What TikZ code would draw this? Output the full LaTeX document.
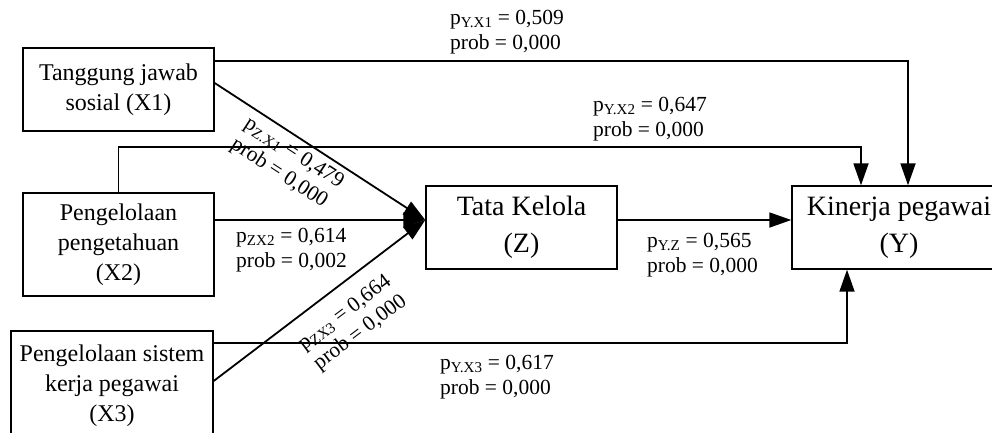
\documentclass[tikz,border=0pt]{standalone}
\usepackage{fontspec}
\setmainfont{Liberation Serif}
\usetikzlibrary{arrows.meta}

\begin{document}
\begin{tikzpicture}[x=1pt, y=-1pt,
	var/.style={draw, line width=1.4pt, align=center, inner sep=0pt, font=\fontsize{24}{30}\selectfont},
	hub/.style={var, font=\fontsize{28}{37}\selectfont},
	conn/.style={line width=1.8pt, -{Triangle[length=22pt, width=15pt]}},
	coef/.style={align=left, inner sep=0pt, font=\fontsize{21.5}{25}\selectfont}]
	\useasboundingbox (0,0) rectangle (992,432);
	
	% variables
	\node[var, minimum width=191pt, minimum height=83pt] (x1) at (118.5, 89.5) {Tanggung jawab\\sosial (X1)};
	\node[var, minimum width=191pt, minimum height=103pt] (x2) at (118.5, 244.5) {Pengelolaan\\pengetahuan\\(X2)};
	\node[var, minimum width=202pt, minimum height=110pt] (x3) at (112, 386) {Pengelolaan sistem\\kerja pegawai\\(X3)};
	\node[hub, minimum width=191pt, minimum height=83pt] (z) at (521.5, 227.5) {Tata Kelola\\(Z)};
	\node[hub, minimum width=214pt, minimum height=83pt] (y) at (899, 227.5) {Kinerja pegawai\\(Y)};
	
	% into Z
	\draw[conn] ([yshift=6.5pt]x1.east) -- ([yshift=7.5pt]z.west);
	\draw[conn] ([yshift=24.5pt]x2.east) -- ([yshift=7.5pt]z.west);
	\draw[conn] ([yshift=5pt]x3.east) -- ([yshift=7.5pt]z.west);
	
	% into Y
	\draw[conn] ([yshift=7.5pt]z.east) -- ([yshift=7.5pt]y.west);
	\draw[conn] ([yshift=-14pt]x1.north east) -| ([xshift=9pt]y.north);
	\draw[conn] (x2.north) -- ++(0,-45) -| ([xshift=-38pt]y.north);
	\draw[conn] ([yshift=-13pt]x3.north east) -| ([xshift=-52pt]y.south);
	
	% coefficients
	\node[coef, anchor=west] (ly1) at (450, 32) {p\textsubscript{Y.X1} = 0,509\\prob = 0,000};
	\node[coef, anchor=west] (ly2) at (593, 119) {p\textsubscript{Y.X2} = 0,647\\prob = 0,000};
	\node[coef, anchor=west] (lz2) at (236, 250) {p\textsubscript{ZX2} = 0,614\\prob = 0,002};
	\node[coef, anchor=west] (lyz) at (647, 255) {p\textsubscript{Y.Z} = 0,565\\prob = 0,000};
	\node[coef, anchor=west] (ly3) at (440, 377) {p\textsubscript{Y.X3} = 0,617\\prob = 0,000};
	\node[coef, rotate=-33] (lz1) at (287, 164) {p\textsubscript{Z.X1} = 0,479\\prob = 0,000};
	\node[coef, rotate=37] (lz3) at (353, 323) {p\textsubscript{ZX3} = 0,664\\prob = 0,000};
\end{tikzpicture}
\end{document}
